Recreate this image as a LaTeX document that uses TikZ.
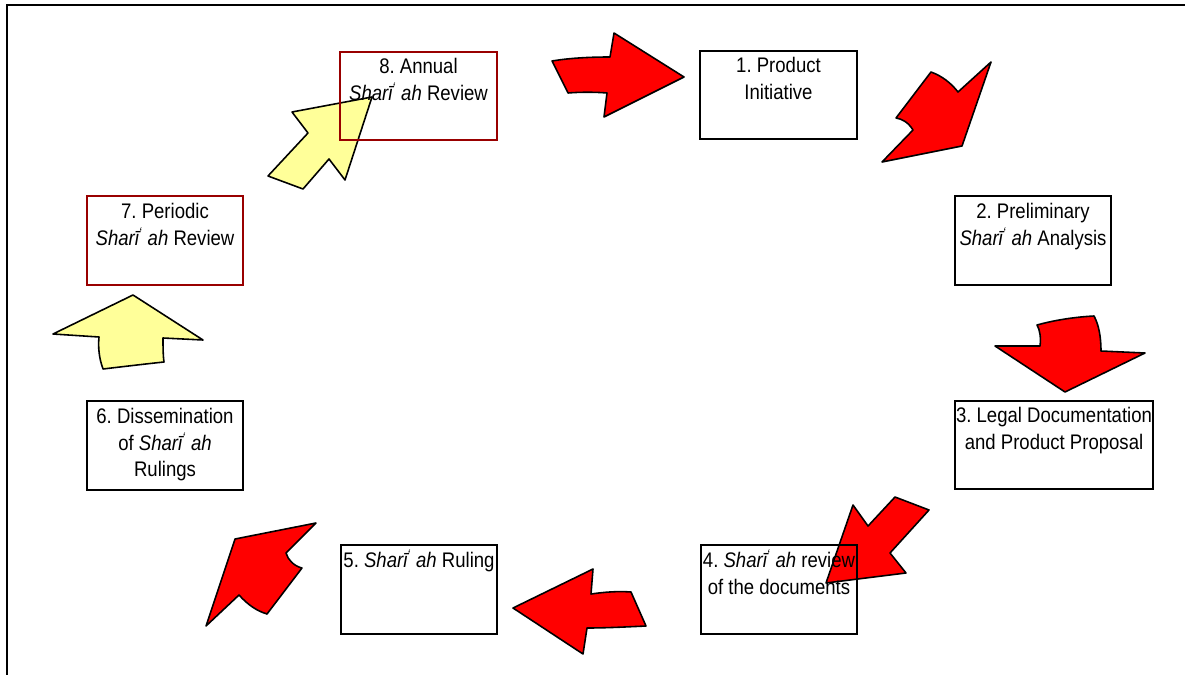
\documentclass[tikz,border=0pt]{standalone}
\usepackage{fontspec}
\setmainfont{Liberation Sans}[FakeStretch=0.88]
\usepackage{tikz}
\usetikzlibrary{arrows,shapes}
\definecolor{reviewred}{RGB}{153,0,0}
\definecolor{paleyellow}{RGB}{255,255,153}
\frenchspacing
\newcommand{\shariah}{\textit{Sharī\textsuperscript{‘} ah}}
\newcommand{\boxtext}[2][3.13cm]{\parbox[c][1.77cm][t]{#1}{\centering\rule{0pt}{12.5pt}#2}}
\tikzstyle{stage}=[draw=black,line width=1.1pt,inner sep=0pt,font=\fontsize{12}{15.3}\selectfont]
\tikzstyle{review stage}=[stage,draw=reviewred,line width=1pt]
\tikzstyle{red arrow}=[draw=black,fill=red,line width=0.9pt,line join=round]
\tikzstyle{yellow arrow}=[red arrow,fill=paleyellow]
\tikzstyle{frame}=[draw=black,line width=1.2pt]

\begin{document}
\begin{tikzpicture}[x=0.02cm,y=-0.02cm]
    \useasboundingbox (0,0) rectangle (1185,675);
    % Outer frame (open at right and bottom)
    \path[frame] (7,675) -- (7,5) -- (1185,5);

    % First we draw the block arrows
    \path[red arrow] (552,61) .. controls (570,58) and (590,57) .. (610,57) -- (614,33) -- (684,77)
        -- (604,117) -- (607,93) .. controls (595,92) and (580,92) .. (568,93) -- cycle;
    \path[red arrow] (991,62) -- (962,146) -- (882,162) -- (913,130) .. controls (908,122) and (902,119) .. (896,118)
        -- (931,72) .. controls (942,76) and (951,83) .. (958,92) -- cycle;
    \path[red arrow] (1037,325) .. controls (1055,320) and (1075,317) .. (1094,316) .. controls (1099,325) and (1101,338) .. (1101,351)
        -- (1145,353) -- (1065,392) -- (995,346) -- (1040,346) .. controls (1041,338) and (1040,330) .. (1037,325) -- cycle;
    \path[red arrow] (826,583) -- (853,505) -- (868,526) -- (895,497) -- (929,510) -- (890,553) -- (906,573) -- cycle;
    \path[red arrow] (513,608) -- (593,569) -- (591,594) .. controls (605,592) and (618,591) .. (631,592) -- (646,626)
        .. controls (625,627) and (605,628) .. (587,628) -- (583,654) -- cycle;
    \path[red arrow] (316,523) -- (235,539) -- (206,626) -- (239,595) .. controls (248,605) and (257,611) .. (267,614)
        -- (302,568) .. controls (294,566) and (288,560) .. (286,553) -- cycle;
    \path[yellow arrow] (133,295) -- (203,340) -- (163,338) .. controls (163,346) and (163,355) .. (164,362)
        .. controls (145,364) and (120,367) .. (103,369) .. controls (99,358) and (98,347) .. (99,337) -- (53,334) -- cycle;
    \path[yellow arrow] (372,97) -- (292,112) -- (308,133) -- (268,176) -- (303,189) -- (329,159) -- (345,180) -- cycle;

    % Then the stages of the process
    \foreach \pos/\name/\txt in {{(778.5,95)/s1/{1. Product\\Initiative}},
        {(1033,240.5)/s2/{2. Preliminary\\\shariah{} Analysis}},
        {(779,589.5)/s4/{4. \shariah{} review\\of the documents}},
        {(419,589.5)/s5/{5. \shariah{} Ruling}},
        {(165,445.5)/s6/{6. Dissemination\\of \shariah\\Rulings}}}
        \node[stage] (\name) at \pos {\boxtext{\txt}};
    \node[stage] (s3) at (1054,445) {\boxtext[3.96cm]{3. Legal Documentation\\and Product Proposal}};

    \foreach \pos/\name/\txt in {{(165,240.5)/s7/{7. Periodic\\\shariah{} Review}},
        {(418.5,96)/s8/{8. Annual\\\shariah{} Review}}}
        \node[review stage] (\name) at \pos {\boxtext{\txt}};
\end{tikzpicture}
\end{document}
